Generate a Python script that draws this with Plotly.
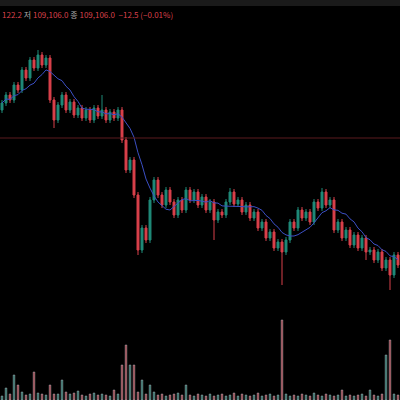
import plotly.graph_objects as go

closes = [297, 305, 300, 315, 310, 330, 322, 340, 332, 345,
          335, 342, 300, 280, 295, 305, 290, 298, 285, 292,
          282, 290, 280, 292, 284, 290, 280, 288, 282, 290,
          260, 230, 240, 205, 150, 172, 160, 200, 220, 205,
          195, 210, 198, 185, 200, 190, 210, 200, 208, 195,
          203, 190, 198, 180, 188, 185, 198, 208, 196, 200,
          188, 195, 182, 188, 172, 178, 162, 168, 152, 158,
          148, 160, 178, 172, 190, 182, 188, 178, 198, 192,
          208, 195, 200, 170, 178, 162, 170, 155, 165, 152,
          162, 148, 150, 140, 148, 132, 140, 125, 145, 135]
opens = [290] + closes[:-1]
spike_lows = {13: 272, 34: 145, 53: 160, 70: 115, 91: 140, 97: 110}
spike_highs = {9: 350, 25: 305, 57: 212, 80: 212}
volumes = [4, 12, 6, 25, 15, 8, 5, 6, 28, 7,
           6, 5, 15, 6, 6, 20, 8, 6, 7, 9,
           5, 4, 6, 7, 5, 6, 5, 4, 10, 6,
           35, 55, 35, 35, 8, 20, 6, 15, 8, 5,
           6, 4, 5, 6, 7, 5, 15, 5, 4, 6,
           5, 4, 6, 4, 5, 6, 4, 5, 7, 4,
           6, 5, 4, 5, 7, 4, 5, 6, 4, 5,
           80, 6, 4, 5, 4, 6, 5, 4, 7, 5,
           4, 6, 5, 4, 5, 10, 4, 5, 4, 5,
           6, 4, 10, 5, 4, 6, 45, 60, 6, 5]
ma_window = 9

n = len(closes)
x = list(range(n))
highs = [spike_highs.get(i, max(opens[i], closes[i]) + 3) for i in x]
lows = [spike_lows.get(i, min(opens[i], closes[i]) - 3) for i in x]
ma = [sum(closes[max(0, i - ma_window + 1):i + 1]) / len(closes[max(0, i - ma_window + 1):i + 1]) for i in x]

up, down = "#1f8a78", "#d9404b"
fig = go.Figure()
fig.add_trace(go.Candlestick(x=x, open=opens, high=highs, low=lows, close=closes,
                             increasing=dict(line=dict(color=up, width=1), fillcolor=up),
                             decreasing=dict(line=dict(color=down, width=1), fillcolor=down),
                             whiskerwidth=0))
fig.add_trace(go.Scatter(x=x, y=ma, mode="lines", line=dict(color="#3b4fc4", width=1)))
fig.add_trace(go.Bar(x=x, y=volumes, yaxis="y2", width=0.4,
                     marker=dict(color=[up if c >= o else down for o, c in zip(opens, closes)], opacity=0.8)))
fig.add_hline(y=262, line=dict(color="#5a1a1e", width=1))

fig.add_annotation(x=0, y=1 - 15 / 400, xref="paper", yref="paper", xanchor="left", yanchor="middle",
                   showarrow=False, font=dict(size=8, color="#d9404b", family="Noto Sans CJK KR"),
                   text="122.2 <span style='color:#aaaaaa'>저</span> 109,106.0 <span style='color:#aaaaaa'>종</span> 109,106.0  −12.5 (−0.01%)")
fig.add_shape(type="rect", xref="paper", yref="paper", x0=0, x1=1, y0=1 - 6 / 400, y1=1,
              fillcolor="#1a1a1a", line=dict(width=0))

fig.update_layout(width=400, height=400, margin=dict(l=0, r=0, t=0, b=0, autoexpand=False),
                  paper_bgcolor="#000000", plot_bgcolor="#000000", showlegend=False,
                  xaxis=dict(range=[-0.5, n - 0.5], visible=False, rangeslider=dict(visible=False)),
                  yaxis=dict(range=[0, 400], visible=False),
                  yaxis2=dict(range=[0, 400], overlaying="y", visible=False))
fig.write_html("out.html", config={"displayModeBar": False},
               post_script="document.body.style.margin='0';document.body.style.background='#000';")
